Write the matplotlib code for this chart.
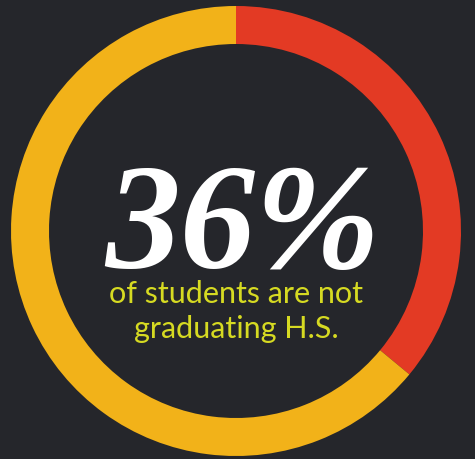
import matplotlib

matplotlib.use("Agg")
import matplotlib.pyplot as plt

# share of students not graduating high school
labels = ["not graduating", "graduating"]
shares = [36, 64]
colors = ["#e33a24", "#f2b219"]

BG = "#25262b"
W, H = 475, 460

fig = plt.figure(figsize=(W / 100, H / 100), dpi=100, facecolor=BG)
ax = fig.add_axes([0, 0, 1, 1])
ax.set_facecolor(BG)

ax.pie(shares, colors=colors, startangle=90, counterclock=False,
       radius=225, center=(236, H - 232),
       wedgeprops=dict(width=38, linewidth=0))
ax.set_xlim(0, W)
ax.set_ylim(0, H)
ax.set_aspect("equal")
ax.axis("off")

ax.text(243, H - 268, f"{shares[0]}%", ha="center", va="baseline",
        color="white", fontsize=108, fontweight="bold", fontstyle="italic",
        family="Liberation Serif")
ax.text(236, H - 303, "of students are not", ha="center", va="baseline",
        color="#d6da22", fontsize=22, family="Lato")
ax.text(236, H - 338, "graduating H.S.", ha="center", va="baseline",
        color="#d6da22", fontsize=22, family="Lato")

fig.savefig("out.png", dpi=100, facecolor=BG)
